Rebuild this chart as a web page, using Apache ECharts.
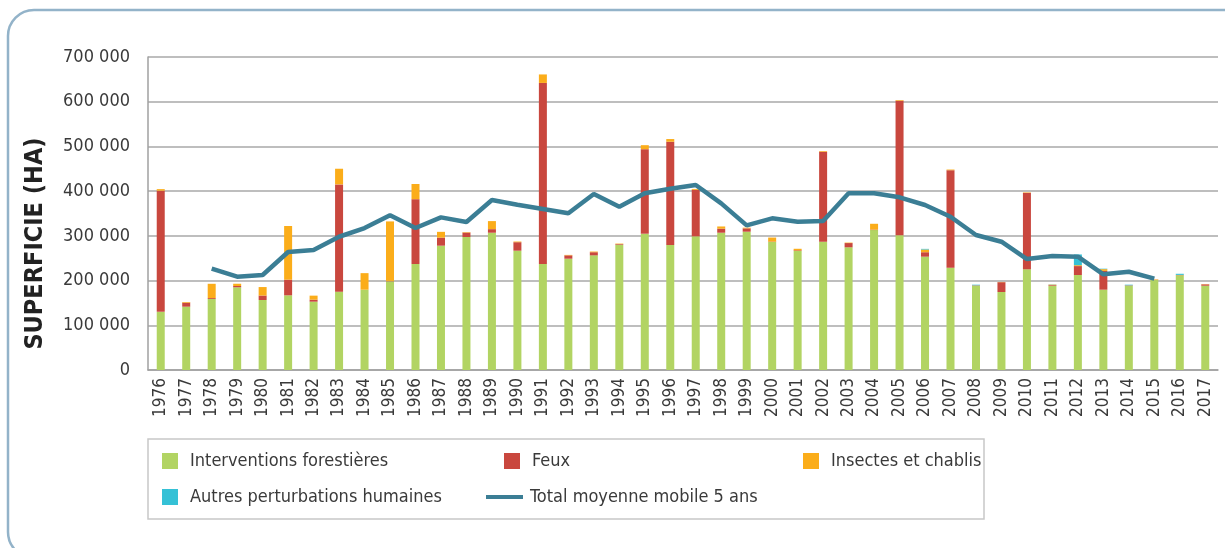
<!DOCTYPE html>
<html>
<head>
<meta charset="utf-8">
<script src="https://cdn.jsdelivr.net/npm/echarts@6/dist/echarts.min.js"></script>
<style>
  html, body { margin: 0; padding: 0; background: #fff; }
  #chart { width: 1225px; height: 548px; }
</style>
</head>
<body>
<div id="chart"></div>
<script>
// années
var years = ['1976','1977','1978','1979','1980','1981','1982','1983','1984','1985','1986','1987','1988','1989',
  '1990','1991','1992','1993','1994','1995','1996','1997','1998','1999','2000','2001','2002','2003',
  '2004','2005','2006','2007','2008','2009','2010','2011','2012','2013','2014','2015','2016','2017'];

// superficies (ha)
var interventions = [130000,141600,158800,184900,156500,167000,152800,175100,179600,198300,237000,278000,297400,307000,
  266800,237000,248900,256400,280200,304800,279500,298900,307000,309300,286200,266100,286900,274400,
  313000,301200,253400,228800,187800,174400,225200,188500,212400,179600,187800,201200,211700,188500];
var feux = [271000,9000,2000,3000,10000,35000,4500,240000,0,1000,145000,18000,10000,8000,
  19000,405000,7500,7000,1500,189000,231000,104000,9000,7500,1000,1500,201000,9500,
  1000,301000,10000,218000,1000,22000,171000,1500,20000,42000,1000,500,500,3000];
var insectes = [3500,1500,32000,5000,19000,120000,9000,35000,37000,133000,34000,13000,1000,18000,
  1500,19000,1000,1500,1000,9000,6000,2000,5000,1500,9000,3500,1500,1000,
  13000,1500,6000,1500,500,500,1000,1000,2000,4000,500,1000,500,500];
var autres = [0,0,0,0,0,0,0,0,0,0,0,0,0,0,
  0,0,0,0,0,0,0,0,0,0,0,0,0,0,
  0,0,1500,0,1500,0,0,500,24000,1000,1500,0,2500,0];
var moyenneMobile = [null,null,226500,208600,212400,263800,268300,298000,317500,345900,317500,341400,330900,380100,
  369600,360000,350400,393500,365200,395100,405400,413700,372700,323500,339200,331600,333200,395100,
  395100,386200,369000,342800,301900,286900,248200,254900,253400,214000,219800,204200,null,null];

var FONT = '"Liberation Sans Narrow", "DejaVu Sans Condensed", "Roboto", sans-serif';
var TXT = '#3a3a3a';

var myChart = echarts.init(document.getElementById('chart'));

function barSerie(name, data, color) {
  return {
    name: name,
    type: 'bar',
    stack: 'total',
    barWidth: 8,
    itemStyle: { color: color },
    data: data
  };
}

var legendBase = {
  orient: 'vertical',
  padding: 0,
  itemWidth: 16,
  itemHeight: 16,
  icon: 'rect',
  selectedMode: false,
  textStyle: { fontFamily: FONT, fontSize: 18, color: TXT, lineHeight: 20, padding: [0, 0, 0, 7] }
};

var option = {
  animation: false,
  backgroundColor: '#fff',
  grid: { left: 148, right: 7, top: 57, bottom: 178 },
  graphic: [
    {
      type: 'rect',
      shape: { x: 8, y: 10, width: 1245, height: 548, r: 26 },
      style: { fill: 'none', stroke: '#93b3c9', lineWidth: 2.5 }
    },
    {
      type: 'rect',
      shape: { x: 148, y: 439, width: 836, height: 80 },
      style: { fill: 'none', stroke: '#c8c8c8', lineWidth: 1.5 }
    }
  ],
  legend: [
    Object.assign({}, legendBase, { left: 162, top: 451, itemGap: 16,
      data: ['Interventions forestières', 'Autres perturbations humaines'] }),
    Object.assign({}, legendBase, { left: 504, top: 451, data: ['Feux'] }),
    Object.assign({}, legendBase, { left: 803, top: 451, data: ['Insectes et chablis'] }),
    Object.assign({}, legendBase, { left: 486, top: 487, itemWidth: 37, itemHeight: 4,
      textStyle: { fontFamily: FONT, fontSize: 18, color: TXT, lineHeight: 20, padding: [0, 0, 0, 2] },
      data: ['Total moyenne mobile 5 ans'] })
  ],
  xAxis: {
    type: 'category',
    data: years,
    axisLine: { lineStyle: { color: '#a0a0a0', width: 1.5 } },
    axisTick: { show: false },
    axisLabel: { rotate: 90, interval: 0, margin: 8, fontFamily: FONT, fontSize: 17, color: TXT }
  },
  yAxis: {
    type: 'value',
    min: 0,
    max: 700000,
    interval: 100000,
    name: 'SUPERFICIE (HA)',
    nameLocation: 'middle',
    nameRotate: 90,
    nameGap: 100,
    nameTextStyle: { fontFamily: FONT, fontSize: 25, fontWeight: 'bold', color: '#222', padding: [0, 60, 0, 0] },
    axisLine: { show: true, lineStyle: { color: '#a0a0a0', width: 1.5 } },
    axisTick: { show: false },
    splitLine: { lineStyle: { color: '#a8a8a8', width: 1.5 } },
    axisLabel: {
      margin: 18,
      fontFamily: FONT,
      fontSize: 18,
      color: TXT,
      formatter: function (v) { return String(v).replace(/\B(?=(\d{3})+(?!\d))/g, ' '); }
    }
  },
  series: [
    barSerie('Interventions forestières', interventions, '#b2d463'),
    barSerie('Feux', feux, '#c9473e'),
    barSerie('Insectes et chablis', insectes, '#fbad1a'),
    barSerie('Autres perturbations humaines', autres, '#35c1d6'),
    {
      name: 'Total moyenne mobile 5 ans',
      type: 'line',
      data: moyenneMobile,
      symbol: 'none',
      connectNulls: false,
      itemStyle: { color: '#3b7e95' },
      lineStyle: { color: '#3b7e95', width: 4.5 }
    }
  ]
};

myChart.setOption(option);
</script>
</body>
</html>
